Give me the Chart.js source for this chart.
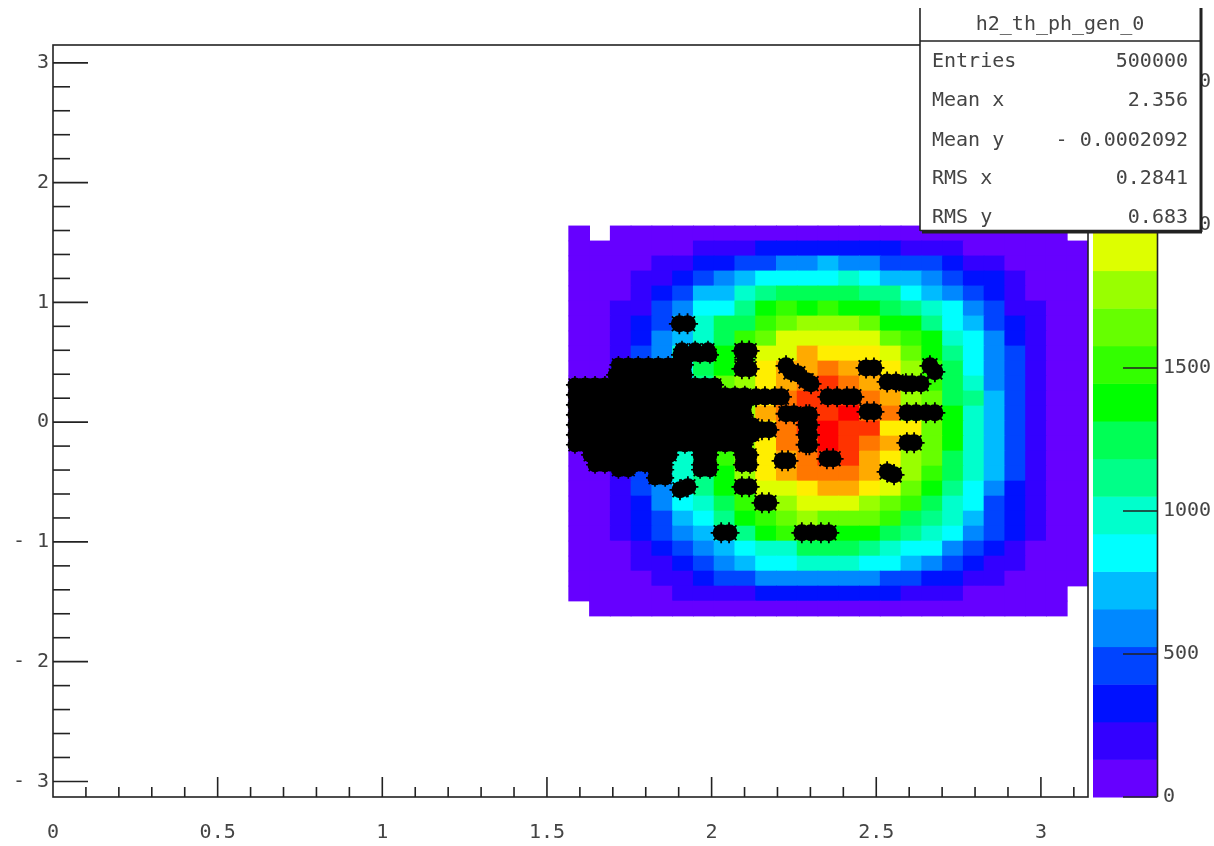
<!DOCTYPE html>
<html><head><meta charset="utf-8">
<style>html,body{margin:0;padding:0;background:#fff}canvas{display:block}</style>
<script src="https://cdn.jsdelivr.net/npm/chart.js@4"></script>
</head><body><canvas id="c" width="1214" height="846"></canvas>
<script>
// Bin counts, top row (phi high) to bottom row, left (theta low) to right
const row00=[65,null,65,65,65,65,65,65,65,65,65,65,65,65,65,65,65,65,65,65,65,65,65,65,null];
const row01=[65,65,65,65,65,65,200,200,200,330,330,330,330,330,330,330,200,200,200,65,65,65,65,65,65];
const row02=[65,65,65,65,200,200,330,330,460,460,590,590,725,590,590,460,460,460,330,200,200,65,65,65,65];
const row03=[65,65,65,200,200,330,460,590,725,855,855,855,855,990,855,725,725,590,460,330,330,200,65,65,65];
const row04=[65,65,65,200,330,460,725,725,990,1120,1250,1250,1250,1250,1120,1120,855,725,590,460,330,200,65,65,65];
const row05=[65,65,200,200,460,590,855,855,1120,1380,1515,1380,1515,1380,1380,1250,1120,990,855,590,460,200,200,65,65];
const row06=[65,65,200,330,460,725,990,1250,1250,1515,1645,1775,1775,1775,1645,1380,1380,1120,855,725,460,330,200,65,65];
const row07=[65,65,200,330,590,725,990,1250,1515,1645,1910,1910,1910,1910,1910,1645,1515,1380,990,855,590,330,200,65,65];
const row08=[65,65,200,460,590,990,1120,1380,1515,1910,1910,2170,2040,2040,2040,1910,1645,1380,1120,855,590,460,200,65,65];
const row09=[65,65,200,330,590,855,1250,1380,1645,2040,2170,2170,2305,2170,2170,2040,1775,1515,1250,855,590,460,200,65,65];
const row10=[65,65,200,330,460,725,1120,1645,1775,2040,2170,2305,2435,2305,2170,2170,1775,1515,1250,990,590,460,200,65,65];
const row11=[65,65,200,330,590,855,1120,1380,1645,2040,2305,2435,2435,2435,2305,2170,1775,1645,1250,1120,725,460,200,65,65];
const row12=[65,65,200,330,590,855,1120,1515,1775,2170,2305,2435,2435,2570,2305,2305,1645,1645,1380,990,725,460,200,65,65];
const row13=[65,65,200,330,590,855,1120,1515,1775,2040,2305,2435,2570,2435,2435,2040,2040,1645,1380,990,725,460,200,65,65];
const row14=[65,65,200,460,590,855,1120,1515,1775,2040,2305,2305,2570,2435,2305,2170,1775,1645,1380,990,725,460,200,65,65];
const row15=[65,65,200,460,590,990,1120,1515,1775,2040,2170,2305,2435,2435,2170,2040,1775,1645,1250,990,725,460,200,65,65];
const row16=[65,65,200,460,590,990,1120,1380,1775,2040,2170,2305,2305,2305,2170,1910,1775,1515,1250,990,725,460,200,65,65];
const row17=[65,65,200,460,590,855,1120,1380,1515,1910,1910,2040,2170,2170,2040,1910,1645,1380,1120,855,590,330,200,65,65];
const row18=[65,65,200,330,590,855,990,1250,1515,1645,1775,1910,1910,1910,1775,1645,1515,1250,990,855,460,330,200,65,65];
const row19=[65,65,200,330,460,725,855,1120,1380,1515,1645,1775,1645,1645,1645,1515,1250,1120,990,725,460,330,200,65,65];
const row20=[65,65,200,330,460,590,725,855,1120,1380,1515,1515,1380,1380,1380,1250,1120,990,855,590,460,330,200,65,65];
const row21=[65,65,65,200,330,460,590,725,855,990,990,1250,1250,1250,1120,990,855,855,590,460,330,200,65,65,65];
const row22=[65,65,65,200,200,330,460,590,725,855,855,990,990,990,855,855,725,590,460,330,200,200,65,65,65];
const row23=[65,65,65,65,200,200,330,460,460,590,590,590,590,590,590,460,460,330,330,200,200,65,65,65,65];
const row24=[65,65,65,65,65,200,200,200,200,330,330,330,330,330,330,330,200,200,200,65,65,65,65,65,null];
const row25=[null,65,65,65,65,65,65,65,65,65,65,65,65,65,65,65,65,65,65,65,65,65,65,65,null];
const binRows=[row00,row01,row02,row03,row04,row05,row06,row07,row08,row09,row10,row11,row12,row13,row14,row15,row16,row17,row18,row19,row20,row21,row22,row23,row24,row25];
const thetaStart=1.5663, thetaBin=0.06306, phiTop=1.6386, phiBin=0.1253;

const palette=['#6600ff','#3300ff','#0011ff','#0044ff','#0088ff','#00bbff','#00ffff','#00ffcc','#00ff88','#00ff55','#00ff00','#33ff00','#66ff00','#99ff00','#ddff00','#ffee00','#ffaa00','#ff7700','#ff3300','#ff0000'];
const zMax=2629;
const zTicks=[0,500,1000,1500,2000,2500];

// Scatter overlay, one [phi, thetas] list per row of the dense region
const denseRows=[
[0.604,[1.910,1.950,1.989]],
[0.562,[1.904,1.934,1.965,1.995]],
[0.478,[1.717,1.747,1.777,1.808,1.838,1.868,1.889,1.919]],
[0.395,[1.707,1.737,1.767,1.798,1.828,1.859,1.889,1.919]],
[0.311,[1.585,1.616,1.646,1.676,1.707,1.737,1.767,1.798,1.828,1.859,1.889,1.919,1.950,1.980,2.010]],
[0.228,[1.585,1.616,1.646,1.676,1.707,1.737,1.767,1.798,1.828,1.859,1.889,1.919,1.950,1.980,2.010,2.041,2.071,2.101]],
[0.144,[1.585,1.616,1.646,1.676,1.707,1.737,1.767,1.798,1.828,1.859,1.889,1.919,1.950,1.980,2.010,2.041,2.071,2.101]],
[0.061,[1.585,1.616,1.646,1.676,1.707,1.737,1.767,1.798,1.828,1.859,1.889,1.919,1.950,1.980,2.010,2.041,2.071,2.101]],
[-0.023,[1.585,1.616,1.646,1.676,1.707,1.737,1.767,1.798,1.828,1.859,1.889,1.919,1.950,1.980,2.010,2.041,2.071,2.101,2.125]],
[-0.106,[1.585,1.616,1.646,1.676,1.707,1.737,1.767,1.798,1.828,1.859,1.889,1.919,1.950,1.980,2.010,2.041,2.071,2.101,2.125]],
[-0.189,[1.585,1.616,1.646,1.676,1.707,1.737,1.767,1.798,1.828,1.859,1.889,1.919,1.950,1.980,2.010,2.041,2.071,2.101]],
[-0.273,[1.631,1.661,1.692,1.722,1.752,1.783,1.813,1.843,1.874,1.965,1.995,2.092,2.117]],
[-0.356,[1.646,1.676,1.707,1.737,1.767,1.798,1.828,1.859,1.965,1.995,2.092,2.117]],
[-0.398,[1.717,1.747,1.828,1.859,1.965,1.995]],
[-0.465,[1.828,1.859]]
];
// Separate small clusters as [theta, phi]
const clusterPoints=[
[1.904,-0.565],[1.928,-0.540],
[1.902,0.821],[1.927,0.821],
[2.092,0.595],[2.114,0.595],[2.101,0.520],[2.092,0.445],[2.114,0.445],
[2.226,0.470],[2.241,0.420],[2.262,0.403],[2.287,0.345],[2.302,0.320],
[2.135,0.211],[2.162,0.211],[2.192,0.211],[2.212,0.211],
[2.353,0.211],[2.381,0.211],[2.411,0.211],[2.432,0.211],
[2.226,0.070],[2.250,0.070],[2.287,0.061],[2.297,0.061],[2.287,-0.023],[2.297,-0.023],[2.287,-0.106],[2.297,-0.106],[2.287,-0.189],[2.297,-0.189],
[2.153,-0.064],[2.174,-0.064],
[2.214,-0.323],[2.232,-0.323],
[2.350,-0.306],[2.369,-0.306],
[2.469,0.453],[2.493,0.453],
[2.533,0.336],[2.560,0.336],[2.590,0.320],[2.609,0.320],[2.636,0.320],
[2.663,0.470],[2.678,0.420],
[2.472,0.086],[2.493,0.086],
[2.593,0.078],[2.621,0.078],[2.651,0.078],[2.678,0.078],
[2.593,-0.173],[2.615,-0.173],
[2.533,-0.415],[2.554,-0.440],
[2.092,-0.540],[2.114,-0.540],
[2.153,-0.674],[2.174,-0.674],
[2.029,-0.924],[2.053,-0.924],
[2.274,-0.924],[2.302,-0.924],[2.332,-0.924],[2.356,-0.924]
];
const statTitle='h2_th_ph_gen_0';
const statLabels=['Entries','Mean x','Mean y','RMS x','RMS y'];
const statValues=['500000','2.356','- 0.0002092','0.2841','0.683'];

const FONT='20px "DejaVu Sans Mono"', INK='#444';

const cellData=[], cellColors=[];
binRows.forEach((row,r)=>row.forEach((v,c)=>{
  if(v===null) return;
  cellData.push({x:thetaStart+(c+0.5)*thetaBin,y:[phiTop-(r+1)*phiBin,phiTop-r*phiBin]});
  cellColors.push(palette[Math.min(19,Math.floor(v/(zMax/20)))]);
}));
const denseData=[];
denseRows.forEach(([phi,ths])=>ths.forEach(t=>denseData.push({x:t,y:phi})));
const clusterData=clusterPoints.map(([t,p])=>({x:t,y:p}));

const frame={id:'frame',
 beforeDatasetsDraw(ch){
  const z=ch.scales.z,ctx=ch.ctx;ctx.save();
  palette.forEach((col,i)=>{
   const y0=z.getPixelForValue(i*zMax/20),y1=z.getPixelForValue((i+1)*zMax/20);
   ctx.fillStyle=col;ctx.fillRect(1093,y1,64,y0-y1+0.5);
  });
  ctx.restore();
 },
 afterDatasetsDraw(ch){
  const {ctx,chartArea:a,scales:{x,y,z}}=ch;ctx.save();
  ctx.strokeStyle='#222';ctx.lineWidth=1.6;
  ctx.strokeRect(a.left,a.top,a.right-a.left,a.bottom-a.top);
  const line=(x0,y0,x1,y1)=>{ctx.beginPath();ctx.moveTo(x0,y0);ctx.lineTo(x1,y1);ctx.stroke();};
  x.ticks.forEach(t=>{const p=x.getPixelForValue(t.value);if(t.value===0)return;
    const major=Math.abs(t.value*2-Math.round(t.value*2))<1e-6;line(p,a.bottom,p,a.bottom-(major?20:10));});
  y.ticks.forEach(t=>{const p=y.getPixelForValue(t.value);
    const major=Math.abs(t.value-Math.round(t.value))<1e-6;line(a.left,p,a.left+(major?35:17),p);});
  line(1157.5,a.top,1157.5,a.bottom);
  z.ticks.forEach(t=>{const p=z.getPixelForValue(t.value);line(1123,p,1157.5,p);});
  // statistics box
  ctx.fillStyle='#fff';ctx.fillRect(920,0,280,230);
  ctx.strokeStyle='#222';ctx.lineWidth=1.6;
  line(920,8,920,231);line(920,41,1200,41);line(920,230.5,1200,230.5);
  ctx.lineWidth=3;line(1201,8,1201,232);line(922,232,1202,232);
  ctx.fillStyle=INK;ctx.font=FONT;ctx.textBaseline='middle';
  ctx.textAlign='center';ctx.fillText(statTitle,1060,25);
  const ys=[62,101,141,179,218];
  statLabels.forEach((s,i)=>{ctx.textAlign='left';ctx.fillText(s,932,ys[i]);
    ctx.textAlign='right';ctx.fillText(statValues[i],1188,ys[i]);});
  ctx.restore();
 }};
const noPad=s=>{s.paddingTop=0;s.paddingBottom=0;s.paddingLeft=0;s.paddingRight=0;};
const dot=(label,data,order,style,radius,bw)=>({type:'scatter',label,data,order,pointStyle:style,pointRadius:radius,pointBorderWidth:bw,pointBackgroundColor:'#000',pointBorderColor:'#000',xAxisID:'x',yAxisID:'y'});

new Chart(document.getElementById('c'),{
 type:'bar',
 data:{datasets:[
  dot('dense core',denseData,1,'circle',7.5,0),
  dot('dense',denseData,0,'star',9,1.6),
  dot('clusters core',clusterData,1,'circle',8.5,0),
  dot('clusters',clusterData,0,'star',10.5,1.8),
  {type:'bar',label:'h2_th_ph_gen_0',data:cellData,order:2,backgroundColor:cellColors,borderWidth:0,barThickness:21,grouped:false,xAxisID:'x',yAxisID:'y'}
 ]},
 options:{
  responsive:false,animation:false,devicePixelRatio:1,
  layout:{autoPadding:false,padding:{top:45,left:0,right:0,bottom:0}},
  plugins:{legend:{display:false},tooltip:{enabled:false},title:{display:false}},
  scales:{
   x:{type:'linear',offset:false,min:0,max:3.143,position:'bottom',
      grid:{display:false,offset:false,drawTicks:false},border:{display:false},
      afterFit(s){s.height=49;noPad(s);},
      ticks:{stepSize:0.1,includeBounds:false,autoSkip:false,maxRotation:0,minRotation:0,padding:24,color:INK,font:{family:'"DejaVu Sans Mono"',size:20},
        callback(v){const d=Math.round(v*10);return d%5===0?(d%10===0?String(d/10):(d/10).toFixed(1)):'';}}},
   y:{type:'linear',min:-3.13,max:3.149,position:'left',
      grid:{display:false,drawTicks:false},border:{display:false},
      afterFit(s){s.width=53;noPad(s);},
      ticks:{stepSize:0.2,includeBounds:false,autoSkip:false,padding:4,color:INK,font:{family:'"DejaVu Sans Mono"',size:20},
        callback(v){const d=Math.round(v*10);if(d%10!==0)return '';const n=d/10;return n<0?'- '+(-n):String(n);}}},
   z:{type:'linear',axis:'y',min:0,max:zMax,position:'right',
      grid:{display:false,drawTicks:false},border:{display:false},
      afterBuildTicks(s){s.ticks=zTicks.map(v=>({value:v}));},
      afterFit(s){s.width=126;noPad(s);},
      ticks:{includeBounds:false,autoSkip:false,padding:75,color:INK,font:{family:'"DejaVu Sans Mono"',size:20},callback(v){return String(v);}}}
  }
 },
 plugins:[frame]
});
</script></body></html>
